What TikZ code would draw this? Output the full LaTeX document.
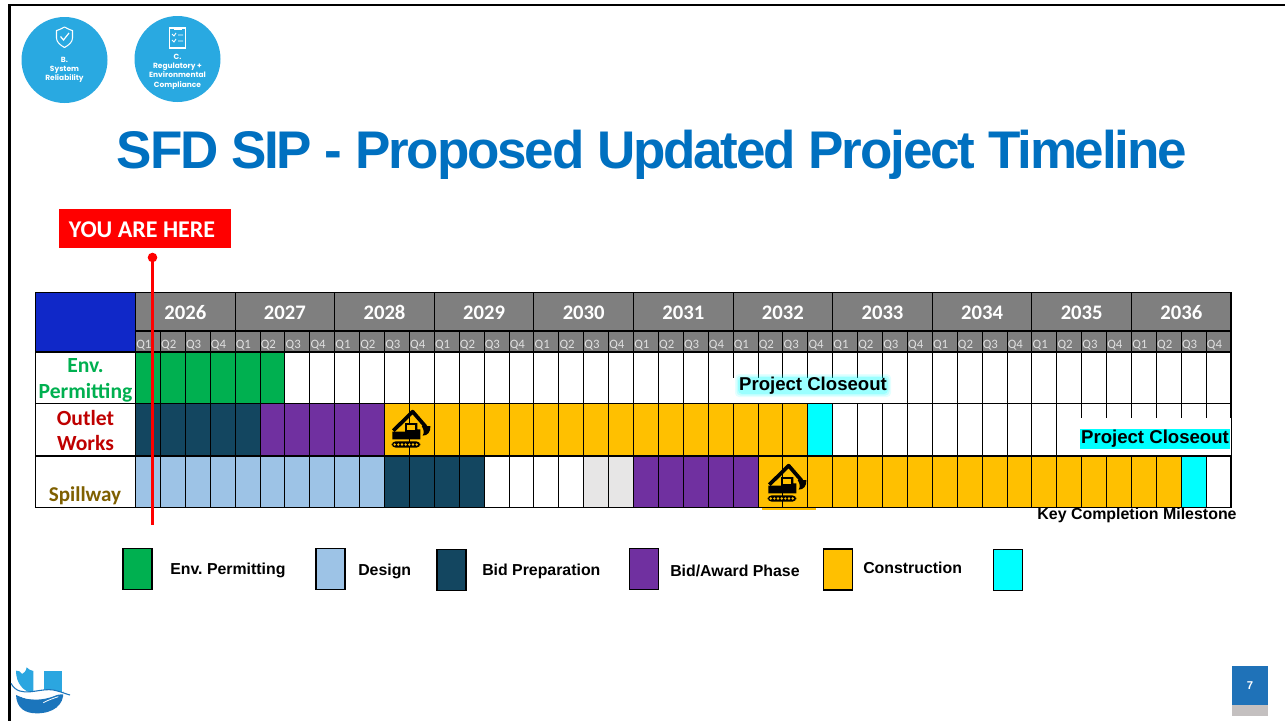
\documentclass[tikz,border=0pt]{standalone}
\usepackage{fontspec}
\setmainfont{Liberation Sans}
\newfontfamily\calfont{Carlito}
\newfontfamily\popfont{Poppins}
\newfontfamily\titlefont[LetterSpace=-4.05]{Liberation Sans}
\definecolor{cgreen}{HTML}{00B050}
\definecolor{clight}{HTML}{9DC3E6}
\definecolor{cdark}{HTML}{134660}
\definecolor{cpurple}{HTML}{7030A0}
\definecolor{corange}{HTML}{FFC000}
\definecolor{ccyan}{HTML}{00FFFF}
\definecolor{cgrey}{HTML}{E7E6E6}
\definecolor{chead}{HTML}{7F7F7F}
\definecolor{cblue}{HTML}{1028C8}
\definecolor{ctitle}{HTML}{0070C0}
\definecolor{cbadge}{HTML}{29A9E1}
\definecolor{cpage}{HTML}{1F72B8}
\definecolor{cfoot}{HTML}{C4C0C0}
\definecolor{clogo}{HTML}{2BA6E0}
\definecolor{clogob}{HTML}{1B75BC}
\tikzset{
  x=0.75pt,y=-0.75pt,
  gridline/.style={draw=black,line width=0.8pt},
  legbox/.style={draw=black,line width=1.1pt,minimum width=22pt,minimum height=31pt,inner sep=0pt},
  leglabel/.style={anchor=west,inner sep=0pt,font=\fontsize{11.9}{14}\selectfont\bfseries\frenchspacing},
  rowlabel/.style={align=center,inner sep=0pt,font=\fontsize{16.2}{19.3}\selectfont\calfont\bfseries},
  yearlabel/.style={text=white,inner sep=0pt,anchor=base,font=\fontsize{15.5}{18}\selectfont\calfont\bfseries},
  qlabel/.style={text=white!88!black,inner sep=0pt,anchor=base,font=\fontsize{9.6}{10}\selectfont\calfont},
  badgetext/.style={text=white,align=center,inner sep=0pt,font=\fontsize{5.6}{7}\selectfont\popfont\bfseries},
  closeout/.style={text=black,inner sep=0pt,font=\fontsize{13.95}{15}\selectfont\bfseries\frenchspacing},
  excavator/.pic={
    \begin{scope}[scale=1/3]
      \draw[black,line width=2.8pt,line join=round] (55,92) -- (113,35) -- (152,80);
      \fill[black] (52,118) -- (52,95) -- (90,95) -- (90,69) -- (127,69) -- (127,88) -- (136,88) -- (136,118) -- cycle;
      \fill[corange] (97,74) rectangle (121,91);
      \fill[black] (140,78) -- (166,78) .. controls (168,95) and (158,107) .. (143,107) .. controls (149,97) and (146,88) .. (140,78) -- cycle;
      \fill[black,rounded corners=3pt] (50,124) rectangle (136,143);
      \foreach \k in {59,70,81,92,103,114,125} {\fill[corange] (\k,133.5) circle[radius=4];}
    \end{scope}
  }
}
\begin{document}
\begin{tikzpicture}
\useasboundingbox (0,0) rectangle (1285,721);
\fill[white] (0,0) rectangle (1285,721);
% slide frame
\draw[black,line width=2.2pt] (9.5,721) -- (9.5,5) -- (1285,5);
% badges
\node[circle,fill=cbadge,minimum size=64.5pt,inner sep=0pt] (badgeb) at (64.5,60) {};
\node[circle,fill=cbadge,minimum size=64.5pt,inner sep=0pt] (badgec) at (177.5,59) {};
\node[badgetext] (badgebtext) at (64.5,70) {B.\\System\\Reliability};
\node[badgetext] (badgectext) at (177.5,71.5) {C.\\Regulatory +\\Environmental\\Compliance};
\draw[white,line width=0.8pt,line join=round] (64.5,27) .. controls (59,30) and (57,30.5) .. (56.5,30.5) -- (56.5,38) .. controls (56.5,42) and (60,45) .. (64.5,47.5) .. controls (69,45) and (72.5,42) .. (72.5,38) -- (72.5,30.5) .. controls (72,30.5) and (70,30) .. (64.5,27) -- cycle;
\draw[white,line width=0.9pt] (60.5,36.5) -- (63.5,40) -- (69,33);
\draw[white,line width=0.9pt] (169.5,28) rectangle (185.5,48);
\fill[white] (173.5,26.5) rectangle (181.5,29.5);
\draw[white,line width=0.7pt] (172,34) -- (174,36) -- (176,33) (178,35) -- (183,35) (172,40) -- (174,42) -- (176,39) (178,41) -- (183,41);
% title
\node[text=ctitle,inner sep=0pt,font=\fontsize{39.75}{44}\selectfont\titlefont\bfseries] (title) at (652,155) {SFD SIP - Proposed Updated Project Timeline};
% you are here
\node[fill=red,minimum width=129pt,minimum height=29.25pt,inner sep=0pt] (here) at (145,228.5) {};
\node[text=white,inner sep=0pt,font=\fontsize{18}{20}\selectfont\calfont\bfseries] (heretext) at (142,229.5) {YOU ARE HERE};
% table background
\fill[chead] (135.5,292.5) rectangle (1231,352);
\fill[cblue] (35.5,292.5) rectangle (135.5,352);
\foreach \a/\b/\t/\u/\c in {
  0/6/352/403.5/cgreen,
  0/5/403.5/456/cdark,
  5/10/403.5/456/cpurple,
  10/27/403.5/456/corange,
  27/28/403.5/456/ccyan,
  0/10/456/507.5/clight,
  10/14/456/507.5/cdark,
  18/20/456/507.5/cgrey,
  20/25/456/507.5/cpurple,
  25/42/456/507.5/corange,
  42/43/456/507.5/ccyan}{
  \fill[\c] ({135.5+24.9*\a},\t) rectangle ({135.5+24.9*\b},\u);
}
% orange patch laid over the grid
\fill[corange] (762,457) rectangle (816,509.5);
% grid
\foreach \k in {0,...,44}{
  \draw[gridline,line width=0.7pt] ({135.5+24.9*\k},331) -- ({135.5+24.9*\k},507.5);
}
\foreach \k in {0,...,11}{
  \draw[gridline,line width=0.7pt] ({135.5+99.6*\k},292.5) -- ({135.5+99.6*\k},331);
}
\foreach \yy in {331,352,403.5,456,507.5}{
  \draw[gridline] (135.5,\yy) -- (1231,\yy);
}
\draw[gridline] (35.5,352) -- (135.5,352) (35.5,403.5) -- (135.5,403.5) (35.5,456) -- (135.5,456) (35.5,507.5) -- (135.5,507.5);
\draw[gridline] (35.5,507.5) -- (35.5,292.5) -- (1231,292.5) -- (1231,507.5);
% year labels
\foreach \n/\y in {0/2026,1/2027,2/2028,3/2029,4/2030,5/2031,6/2032,7/2033,8/2034,9/2035,10/2036}{
  \node[yearlabel] (year\y) at ({185.3+99.6*\n},319) {\y};
  \foreach \q in {1,2,3,4}{
    \node[qlabel] (q\y\q) at ({143.8+99.6*\n+24.9*(\q-1)},348) {Q\q};
  }
}
% row labels
\node[rowlabel,text=cgreen] (renv) at (85.5,380) {Env.\\Permitting};
\node[rowlabel,text=red!75!black] (rout) at (85.5,430.5) {Outlet\\Works};
\node[inner sep=0pt,text={rgb,255:red,127;green,96;blue,0},font=\fontsize{15.8}{18}\selectfont\calfont\bfseries] (rspill) at (85,496) {Spillway};
% excavators
\pic at (375,400) {excavator};
\pic at (751,454) {excavator};
% project closeout 1
\fill[white] (733,378) rectangle (905,402.5);
\foreach \g/\o in {4/0.10,2.5/0.15,1/0.2}{
  \fill[ccyan,opacity=\o,rounded corners=3pt] ({739-\g},{378-\g}) rectangle ({887+\g},{393+\g});
}
\node[closeout] (close1) at (813,385.5) {Project Closeout};
% project closeout 2
\fill[white] (1080,418) rectangle (1231,455.3);
\fill[ccyan] (1080,429) rectangle (1229.5,449);
\node[closeout] (close2) at (1155,439) {Project Closeout};
\node[inner sep=0pt,font=\fontsize{11.95}{14}\selectfont\bfseries\frenchspacing] (keym) at (1137,515) {Key Completion Milestone};
% red marker
\fill[red] (152.5,257.5) circle[radius=4.8];
\coordinate (mtop) at (152.5,257.5);
\coordinate (mbot) at (152.5,525);
\draw[red,line width=2.3pt] (mtop) -- (mbot);
% legend
\node[legbox,fill=cgreen] (l1) at (137.5,569) {};
\node[legbox,fill=clight] (l2) at (330.5,569) {};
\node[legbox,fill=cdark] (l3) at (451.5,570) {};
\node[legbox,fill=cpurple] (l4) at (644,569) {};
\node[legbox,fill=corange] (l5) at (838,569.5) {};
\node[legbox,fill=ccyan] (l6) at (1008,570) {};
\node[leglabel] (t1) at (170,570) {Env. Permitting};
\node[leglabel] (t2) at (358,571) {Design};
\node[leglabel] (t3) at (482,571) {Bid Preparation};
\node[leglabel] (t4) at (670,571) {Bid/Award Phase};
\node[leglabel] (t5) at (863,568) {Construction};
% logo
\begin{scope}[shift={(0,650)},scale=1/3]
  \fill[clogo] (133,63) rectangle (187,130);
  \fill[clogo] (48,62) .. controls (56,60) and (62,66) .. (66,72) .. controls (72,70) and (78,64) .. (80,52) .. controls (86,58) and (92,62) .. (100,63) -- (100,130) .. controls (70,125) and (48,100) .. (48,62) -- cycle;
  \fill[clogob] (48,135) .. controls (80,150) and (130,160) .. (190,125) .. controls (192,165) and (160,190) .. (110,190) .. controls (75,190) and (50,175) .. (48,135) -- cycle;
  \fill[white] (33,100) .. controls (60,150) and (120,110) .. (165,121) .. controls (185,126) and (198,132) .. (210,135) .. controls (170,128) and (135,143) .. (100,147) .. controls (70,150) and (38,132) .. (33,100) -- cycle;
  \draw[clogob,line width=0.8pt] (33,100) .. controls (60,150) and (120,110) .. (165,121) .. controls (185,126) and (198,132) .. (210,135);
  \draw[white,line width=0.6pt] (130,158) .. controls (145,150) and (160,145) .. (175,140);
\end{scope}
% page number
\fill[cfoot] (1232,705) rectangle (1268,716);
\node[fill=cpage,text=white,minimum width=27pt,minimum height=29.25pt,inner sep=0pt,font=\fontsize{8.5}{10}\selectfont\bfseries] (page) at (1250,685.5) {7};
\end{tikzpicture}
\end{document}
